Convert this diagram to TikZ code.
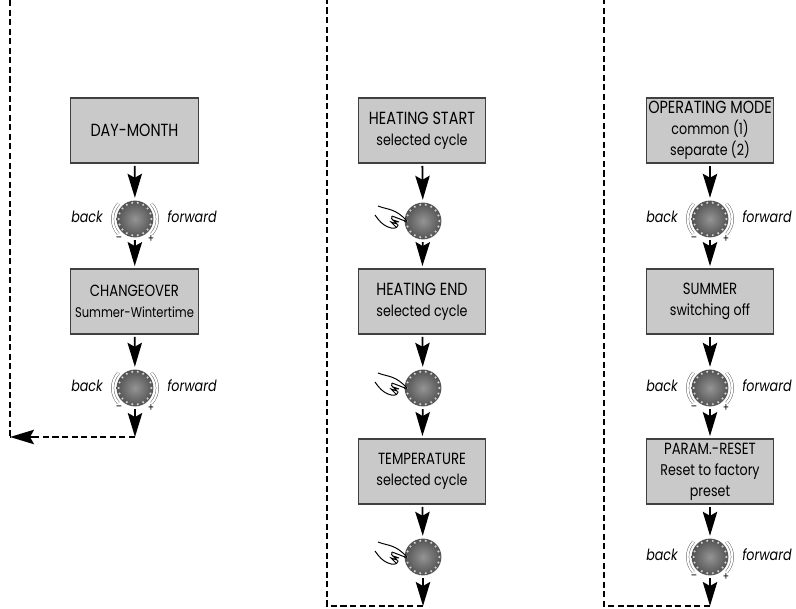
\documentclass[tikz,border=0pt]{standalone}
\usepackage{fontspec}
\setmainfont{Poppins}[FakeStretch=0.82]
\usepackage{tikz}
\usetikzlibrary{arrows.meta}

\tikzset{
  menubox/.style={draw=black!75, fill=black!21, line width=0.9pt, minimum width=3.19cm, minimum height=1.63cm, inner sep=0pt, outer sep=0.07cm, align=center, font=\fontsize{11}{15}\selectfont},
  knob/.style={circle, minimum size=0.92cm, inner sep=0pt, outer sep=0.07cm, inner color=black!42, outer color=black!68},
  flowarrow/.style={-{Stealth[length=0.6cm, width=0.36cm, inset=0.1cm]}, line width=1.3pt},
  dashline/.style={line width=1.2pt, dash pattern=on 4.3pt off 2.5pt},
  dirlabel/.style={font=\itshape\fontsize{11}{11}\selectfont}
}

\newcommand{\titleline}{\fontsize{11.5}{15}\selectfont}
\newcommand{\wideline}{\fontsize{12.5}{15}\selectfont}

\newcommand{\dotring}[1]{
  \foreach \a in {0, 20, ..., 340} {
    \fill [black!18] (#1) ++(\a:0.41cm) circle (0.03cm);
  }
}
\newcommand{\turnmarks}[1]{
  \draw [black!60, line width=0.35pt, double=white, double distance=1.5pt] (#1) ++(137:0.56cm) arc (137:222:0.56cm);
  \draw [black!60, line width=0.35pt, double=white, double distance=1.5pt] (#1) ++(43:0.56cm) arc (43:-42:0.56cm);
  \node [font=\fontsize{8}{8}\selectfont] at ([shift={(-0.4cm,-0.5cm)}]#1) {--};
  \node [font=\fontsize{8}{8}\selectfont] at ([shift={(0.4cm,-0.5cm)}]#1) {+};
  \node [dirlabel, left, inner sep=0pt] at ([shift={(-0.8cm,0.05cm)}]#1) {back};
  \node [dirlabel, right, inner sep=0pt] at ([shift={(0.8cm,0.05cm)}]#1) {forward};
}
\newcommand{\handmark}[1]{
  \begin{scope}[shift={(#1)}, x=0.025cm, y=-0.025cm, line width=0.7pt]
    \draw (-45,-15) .. controls (-35,-11) and (-28,-13) .. (-16,0);
    \draw (-48,-6) .. controls (-44,0) and (-40,4) .. (-35,6) .. controls (-30,8) and (-26,8) .. (-25,4);
    \draw (-31,-5) .. controls (-26,-3) and (-20,-1) .. (-16,1);
    \draw (-31,-5) .. controls (-33,-1) and (-28,1) .. (-24,1) -- (-30,-1) -- (-26,3) -- (-32,1) -- (-27,6);
  \end{scope}
}

\begin{document}
\begin{tikzpicture}[x=0.025cm, y=-0.025cm]
  \useasboundingbox (0, 0) rectangle (796, 609);

  % left column
  \node [menubox] (daymonth) at (134.5, 130.5) {\wideline DAY-MONTH};
  \node [knob] (knobA) at (135, 219) {};
  \node [menubox] (changeover) at (134.5, 301.5) {\titleline CHANGEOVER\\\fontsize{10}{15}\selectfont Summer-Wintertime};
  \node [knob] (knobB) at (135, 388) {};
  \coordinate (endA) at (135, 437);
  \coordinate (cornerA) at (10, 437);
  \coordinate (topA) at (10, 0);

  % middle column
  \node [menubox] (heatstart) at (422, 130.5) {\wideline HEATING START\\selected cycle};
  \node [knob] (knobC) at (423, 221) {};
  \node [menubox] (heatend) at (422, 301.5) {\wideline HEATING END\\selected cycle};
  \node [knob] (knobD) at (423, 388) {};
  \node [menubox] (temperature) at (422, 471.5) {\titleline TEMPERATURE\\selected cycle};
  \node [knob] (knobE) at (423, 557) {};
  \coordinate (endB) at (423, 606);
  \coordinate (cornerB) at (327, 606);
  \coordinate (topB) at (327, 0);

  % right column
  \node [menubox] (opmode) at (710, 130.5) {\wideline OPERATING MODE\\common (1)\\separate (2)};
  \node [knob] (knobF) at (710, 219) {};
  \node [menubox] (summer) at (710, 301.5) {\titleline SUMMER\\switching off};
  \node [knob] (knobG) at (710, 388) {};
  \node [menubox] (reset) at (710, 471.5) {\titleline PARAM.-RESET\\Reset to factory\\preset};
  \node [knob] (knobH) at (710, 557) {};
  \coordinate (endC) at (710, 606);
  \coordinate (cornerC) at (604, 606);
  \coordinate (topC) at (604, 0);

  \foreach \k in {knobA, knobB, knobC, knobD, knobE, knobF, knobG, knobH} {
    \dotring{\k}
  }
  \foreach \k in {knobA, knobB, knobF, knobG, knobH} {
    \turnmarks{\k}
  }
  \foreach \k in {knobC, knobD, knobE} {
    \handmark{\k}
  }

  % arrows
  \foreach \p/\q in {daymonth/knobA, knobA/changeover, changeover/knobB, knobB/endA,
                     heatstart/knobC, knobC/heatend, heatend/knobD, knobD/temperature, temperature/knobE, knobE/endB,
                     opmode/knobF, knobF/summer, summer/knobG, knobG/reset, reset/knobH, knobH/endC} {
    \draw [flowarrow] (\p) -- (\q);
  }

  % dashed returns
  \draw [dashline] (topA) -- (cornerA);
  \draw [dashline] (endA) -- (cornerA);
  \draw [flowarrow] ([xshift=0.6cm]cornerA) -- (cornerA);
  \draw [dashline] (endB) -- (cornerB) -- (topB);
  \draw [dashline] (endC) -- (cornerC) -- (topC);
\end{tikzpicture}
\end{document}
